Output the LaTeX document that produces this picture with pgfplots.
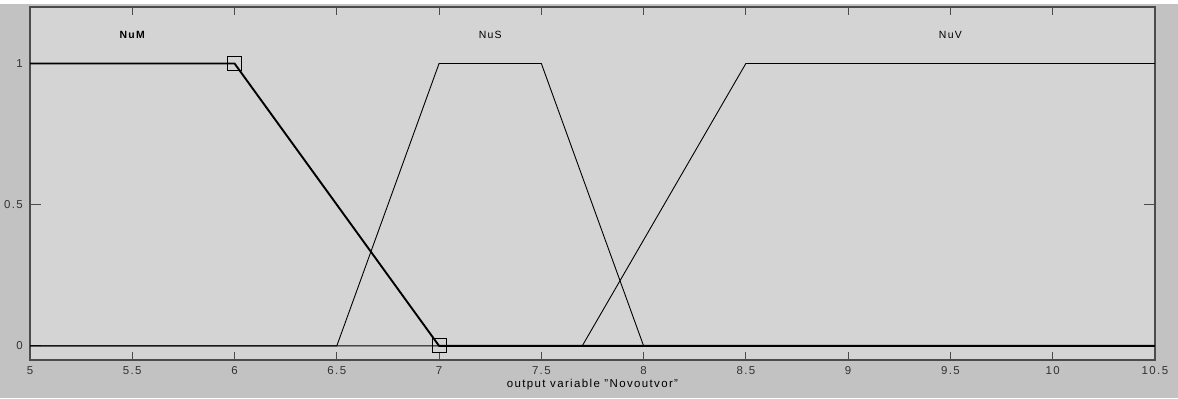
\documentclass[border=0pt]{standalone}
\usepackage{pgfplots}
\pgfplotsset{compat=1.18}
\usepackage{fontspec}
\setmainfont{Liberation Sans}[LetterSpace=12]
\definecolor{outerbg}{RGB}{194,194,194}
\definecolor{innerbg}{RGB}{212,212,212}
\definecolor{axcol}{RGB}{75,75,75}
\definecolor{txtcol}{RGB}{50,50,50}
\begin{document}
\begin{tikzpicture}[x=1bp,y=1bp]
\fill[white] (0,0) rectangle (1178,398);
\fill[outerbg] (0,0) rectangle (1178,394);
\begin{axis}[
  scale only axis, width=1125bp, height=353bp,
  at={(30bp,38bp)}, anchor=south west,
  xmin=5, xmax=10.5, ymin=-0.05, ymax=1.2,
  axis background/.style={fill=innerbg},
  axis line style={axcol, line width=1.2bp},
  xtick={5,5.5,6,6.5,7,7.5,8,8.5,9,9.5,10,10.5},
  xticklabels={5,5.5,6,6.5,7,7.5,8,8.5,9,9.5,10,10.5},
  ytick={0,0.5,1},
  yticklabels={0,0.5,1},
  tick align=inside,
  xtick style={axcol, line width=1bp, /pgfplots/major tick length=8bp},
  ytick style={axcol, line width=1bp, /pgfplots/major tick length=11bp},
  ticklabel style={font=\fontsize{11.5}{13}\selectfont, text=txtcol},
  xticklabel style={anchor=north, inner sep=0pt, yshift=-6bp},
  yticklabel style={anchor=east, inner sep=0pt, xshift=-7bp},
  xlabel={output variable "Novoutvor"},
  xlabel style={font=\fontsize{11.5}{13}\selectfont, text=black, at={(axis description cs:0.5,0)}, anchor=center, yshift=-24.5bp},
]
\addplot[black, line width=0.9bp] coordinates {(5,0) (6.5,0) (7,1) (7.5,1) (8,0) (10.5,0)};
\addplot[black, line width=0.9bp] coordinates {(5,0) (7.7,0) (8.5,1) (10.5,1)};
\addplot[black, line width=1.9bp] coordinates {(5,1) (6,1) (7,0) (10.5,0)};
\addplot[only marks, mark=square, mark size=7bp, mark options={draw=black, line width=0.9bp, fill=none}] coordinates {(6,1) (7,0)};
\node[font=\fontsize{10.5}{12}\selectfont\bfseries] at (axis cs:5.5,1.1) {NuM};
\node[font=\fontsize{10.5}{12}\selectfont] at (axis cs:7.25,1.1) {NuS};
\node[font=\fontsize{10.5}{12}\selectfont] at (axis cs:9.5,1.1) {NuV};
\end{axis}
\pgfresetboundingbox
\path[use as bounding box] (0,0) rectangle (1178,398);
\end{tikzpicture}
\end{document}
